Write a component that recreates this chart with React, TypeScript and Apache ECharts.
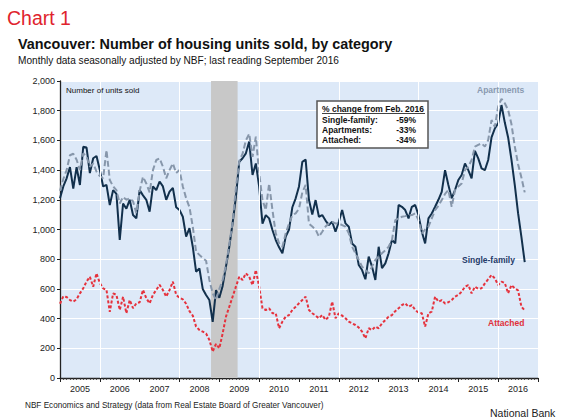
import React, { useEffect, useRef } from "react";
import * as echarts from "echarts";

// x axis: months since Jan 2005 (0 = Jan 2005, 140 = Sep 2016)
const years = ["2005", "2006", "2007", "2008", "2009", "2010", "2011", "2012", "2013", "2014", "2015", "2016"];
const yTicks = [0, 200, 400, 600, 800, 1000, 1200, 1400, 1600, 1800, 2000];

const singleFamily = [
  1210, 1290, 1345, 1420, 1275, 1420, 1300, 1557, 1552, 1380, 1480, 1495,
  1400, 1290, 1300, 1165, 1265, 1240, 930, 1175, 1140, 1200, 1098, 1075,
  1265, 1230, 1200, 1120, 1290, 1265, 1323, 1290, 1200, 1255, 1280, 1150,
  1131, 1086, 952, 1009, 884, 716, 738, 600, 559, 525, 378, 592,
  540, 620, 750, 884, 1041, 1221, 1456, 1480, 1513, 1592, 1367, 1445,
  1288, 1040, 1097, 1075, 997, 929, 880, 840, 952, 1000, 1150, 1210,
  1290, 1456, 1470, 1200, 1100, 1198, 1086, 1097, 1060, 1030, 1052, 985,
  1052, 1131, 1041, 1019, 906, 884, 761, 727, 665, 817, 750, 660,
  884, 740, 772, 840, 929, 907, 1165, 1153, 1131, 1075, 1153, 1165,
  1097, 985, 906, 1075, 1108, 1153, 1200, 1254, 1400, 1300, 1210, 1266,
  1333, 1367, 1445, 1400, 1345, 1530, 1479, 1412, 1400, 1468, 1620, 1680,
  1715, 1838, 1720, 1620, 1470, 1300, 1110, 950, 780,
];

const apartments = [
  1260, 1340, 1400, 1500, 1510, 1470, 1400, 1513, 1490, 1423, 1445, 1390,
  1360, 1345, 1535, 1333, 1290, 1265, 1175, 1220, 1200, 1210, 1190, 1110,
  1260, 1355, 1310, 1250, 1400, 1468, 1479, 1423, 1345, 1400, 1445, 1380,
  1400, 1290, 1210, 1150, 1019, 851, 829, 807, 790, 660, 570, 525,
  600, 660, 760, 900, 1050, 1280, 1460, 1510, 1600, 1645, 1490, 1625,
  1378, 1198, 1131, 1310, 1131, 974, 907, 884, 974, 1041, 1097, 1109,
  1140, 1250, 1300, 1040, 1020, 1000, 952, 985, 1020, 1041, 1052, 1041,
  1040, 1030, 1019, 974, 884, 840, 795, 750, 727, 705, 750, 795,
  817, 840, 860, 884, 929, 1063, 1075, 1086, 1090, 1095, 1097, 1109,
  1063, 974, 1000, 1019, 1075, 1131, 1160, 1198, 1240, 1266, 1153, 1266,
  1290, 1310, 1400, 1423, 1468, 1558, 1570, 1580, 1558, 1603, 1737, 1692,
  1827, 1880, 1850, 1805, 1710, 1560, 1440, 1350, 1250,
];

const attached = [
  500, 550, 545, 525, 514, 530, 570, 604, 650, 682, 615, 705,
  640, 604, 593, 446, 570, 560, 458, 547, 436, 525, 470, 503,
  510, 593, 537, 503, 560, 593, 627, 593, 548, 593, 649, 560,
  540, 530, 500, 450, 420, 346, 323, 312, 300, 256, 178, 230,
  200, 300, 413, 480, 548, 615, 682, 660, 705, 682, 626, 727,
  615, 469, 458, 469, 436, 436, 335, 380, 413, 424, 458, 480,
  503, 525, 548, 458, 436, 420, 402, 424, 391, 413, 514, 402,
  436, 420, 402, 380, 368, 357, 340, 312, 267, 335, 323, 346,
  335, 368, 390, 413, 424, 450, 469, 491, 503, 480, 491, 458,
  440, 436, 346, 436, 447, 548, 514, 525, 502, 510, 525, 548,
  560, 581, 615, 626, 570, 615, 600, 604, 637, 665, 694, 671,
  626, 649, 640, 570, 626, 604, 590, 480, 455,
];

const recessionMonths = [45.5, 53.5];
const yearGridMonths = [12, 36, 60, 84, 108, 132];
const changeHeader = "% change from Feb. 2016";
const changeRows = [
  ["Single-family:", "-59%"],
  ["Apartments:", "-33%"],
  ["Attached:", "-34%"],
];

const FONT = "'Liberation Sans', Arial, Helvetica, sans-serif";

export default function App() {
  const ref = useRef<HTMLDivElement>(null);

  useEffect(() => {
    if (!ref.current) return;
    const chart = echarts.init(ref.current, null, { renderer: "svg" });
    const toPts = (arr: number[]) => arr.map((v, i) => [i, v]);

    const txt = (x: number, y: number, text: string, o: any = {}) => ({
      type: "text",
      x,
      y,
      z: 100,
      silent: true,
      style: {
        text,
        fontFamily: FONT,
        fontSize: o.size || 9,
        fontWeight: o.weight || "normal",
        fill: o.color || "#222",
        align: o.align || "left",
        verticalAlign: "middle",
      },
    });

    chart.setOption({
      animation: false,
      backgroundColor: "#ffffff",
      grid: {
        left: 60,
        right: 32,
        top: 81,
        bottom: 42,
        show: true,
        backgroundColor: "#dde9f8",
        borderWidth: 0,
      },
      xAxis: [
        {
          type: "value",
          min: 0,
          max: 144,
          interval: 12,
          position: "bottom",
          axisLine: { show: true, onZero: false, lineStyle: { color: "#222", width: 1.3 } },
          axisTick: { show: true, length: 4, lineStyle: { color: "#222", width: 1 } },
          minorTick: { show: true, splitNumber: 12, length: 2, lineStyle: { color: "#333", width: 0.8 } },
          axisLabel: { show: false },
          splitLine: { show: false },
          minorSplitLine: { show: false },
        },
        {
          type: "category",
          data: years,
          boundaryGap: true,
          position: "bottom",
          axisLine: { show: false },
          axisTick: { show: false },
          axisLabel: { fontSize: 9, color: "#222", margin: 6, fontFamily: FONT },
          splitLine: { show: false },
        },
      ],
      yAxis: {
        type: "value",
        min: yTicks[0],
        max: yTicks[yTicks.length - 1],
        interval: 200,
        axisLine: { show: true, onZero: false, lineStyle: { color: "#222", width: 1.3 } },
        axisTick: { show: true, length: 3, lineStyle: { color: "#222" } },
        axisLabel: {
          fontSize: 9,
          color: "#222",
          margin: 5,
          fontFamily: FONT,
          formatter: (v: number) => v.toLocaleString("en-US"),
        },
        splitLine: { show: true, lineStyle: { color: "#ffffff", width: 1 } },
      },
      series: [
        {
          name: "bg",
          type: "line",
          xAxisIndex: 0,
          data: [],
          z: 1,
          silent: true,
          markArea: {
            silent: true,
            itemStyle: { color: "#c8c8c8" },
            data: [[{ xAxis: recessionMonths[0] }, { xAxis: recessionMonths[1] }]],
          },
          markLine: {
            silent: true,
            symbol: "none",
            label: { show: false },
            lineStyle: { color: "#ffffff", width: 1, type: "solid" },
            data: yearGridMonths.map((m) => ({ xAxis: m })),
          },
        },
        {
          name: "Attached",
          type: "line",
          xAxisIndex: 0,
          data: toPts(attached),
          showSymbol: false,
          z: 3,
          lineStyle: { color: "#e5323d", width: 2, type: [3, 2] },
        },
        {
          name: "Single-family",
          type: "line",
          xAxisIndex: 0,
          data: toPts(singleFamily),
          showSymbol: false,
          z: 3,
          lineStyle: { color: "#12304c", width: 2 },
        },
        {
          name: "Apartments",
          type: "line",
          xAxisIndex: 0,
          data: toPts(apartments),
          showSymbol: false,
          z: 4,
          lineStyle: { color: "#8797ab", width: 2, type: [6, 3] },
        },
      ],
      graphic: [
        txt(7, 18, "Chart 1", { size: 19.5, color: "#e0232d" }),
        txt(18, 44, "Vancouver: Number of housing units sold, by category", { size: 14.4, weight: "bold", color: "#111" }),
        txt(18, 60, "Monthly data seasonally adjusted by NBF; last reading September 2016", { size: 10.1, color: "#111" }),
        txt(66, 90, "Number of units sold", { size: 8, color: "#111" }),
        txt(477, 90, "Apartments", { size: 8.5, weight: "bold", color: "#8a9ab0" }),
        txt(462, 260, "Single-family", { size: 8.5, weight: "bold", color: "#1e3a6a" }),
        txt(488, 323, "Attached", { size: 8.5, weight: "bold", color: "#e0303a" }),
        txt(25, 405, "NBF Economics and Strategy (data from Real Estate Board of Greater Vancouver)", { size: 8.2, color: "#222" }),
        txt(490, 413, "National Bank", { size: 10.5, color: "#222" }),
        {
          type: "rect",
          z: 99,
          shape: { x: 317, y: 101, width: 111, height: 47 },
          style: { fill: "#ffffff", stroke: "#555555", lineWidth: 1.5 },
          silent: true,
        },
        txt(322, 108.5, changeHeader, { size: 8.5, weight: "bold", color: "#111" }),
        {
          type: "line",
          z: 100,
          shape: { x1: 322, y1: 113.5, x2: 425, y2: 113.5 },
          style: { stroke: "#111", lineWidth: 0.8 },
          silent: true,
        },
        ...changeRows.flatMap((r, i) => [
          txt(322, 119.5 + i * 10.2, r[0], { size: 8.5, weight: "bold", color: "#111" }),
          txt(416, 119.5 + i * 10.2, r[1], { size: 8.5, weight: "bold", color: "#111", align: "right" }),
        ]),
      ],
    });

    return () => chart.dispose();
  }, []);

  return <div ref={ref} style={{ width: 570, height: 420, position: "absolute", left: 0, top: 0 }} />;
}
